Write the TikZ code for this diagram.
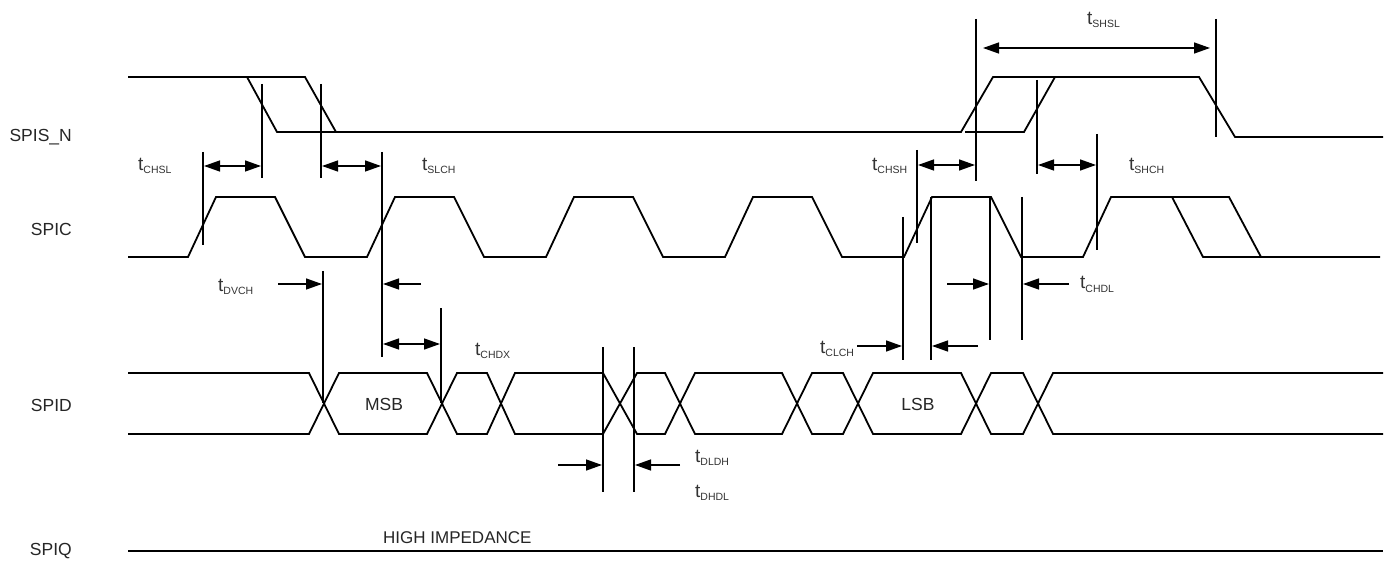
\documentclass[tikz,border=0pt]{standalone}
\usepackage{fontspec}
\setmainfont{Liberation Sans}
\usetikzlibrary{arrows.meta}
\tikzset{
  wave/.style={line width=1.8pt, line join=miter},
  vline/.style={line width=1.6pt},
  dimboth/.style={line width=1.4pt, {Triangle[length=16pt,width=11pt]}-{Triangle[length=16pt,width=11pt]}},
  dimone/.style={line width=1.4pt, -{Triangle[length=16pt,width=11pt]}},
  sig/.style={anchor=base east, inner sep=0pt, font=\fontsize{17.5}{17.5}\selectfont, text=black!85},
  inner/.style={anchor=base, inner sep=0pt, font=\fontsize{17.5}{17.5}\selectfont, text=black!85},
  tlab/.style={anchor=base west, inner sep=0pt, font=\fontsize{19}{19}\selectfont, text=black!80},
}
\newcommand{\tsub}[1]{t\raisebox{-3pt}{\fontsize{10.5}{10.5}\selectfont #1}}
\begin{document}
\begin{tikzpicture}[x=1pt,y=-1pt]
\useasboundingbox (0,0) rectangle (1389,561);
\fill[white] (0,0) rectangle (1389,561);

% signal names
\node[sig] (nS) at (72,142) {SPIS\_N};
\node[sig] (nC) at (72,236) {SPIC};
\node[sig] (nD) at (72,411) {SPID};
\node[sig] (nQ) at (72,555) {SPIQ};

% SPIS_N
\draw[wave] (128,77) -- (305,77) -- (336,132);
\draw[wave] (247,77) -- (277,132) -- (961,132) -- (993,77) -- (1199,77) -- (1235,137) -- (1383,137);
\draw[wave] (965,132) -- (1024,132) -- (1055,77);

% SPIC
\draw[wave] (128,257)--(188,257)--(216,197)--(275,197)--(305,257)--(367,257)--(395,197)--(454,197)--(484,257)
  --(546,257)--(574,197)--(633,197)--(663,257)--(725,257)--(753,197)--(812,197)--(842,257)--(904,257)--(932,197)
  --(991,197)--(1021,257)--(1083,257)--(1111,197)--(1229,197)--(1261,257);
\draw[wave] (1172,197)--(1203,257)--(1380,257);

% SPID
\draw[wave] (128,373)--(309,373)--(339,434)--(427,434)--(457,373)--(487,373)--(515,434)--(603,434)--(637,373)
  --(665,373)--(695,434)--(782,434)--(812,373)--(843,373)--(873,434)--(961,434)--(991,373)--(1023,373)--(1053,434)--(1383,434);
\draw[wave] (128,434)--(309,434)--(339,373)--(427,373)--(457,434)--(487,434)--(515,373)--(603,373)--(637,434)
  --(665,434)--(695,373)--(782,373)--(812,434)--(843,434)--(873,373)--(961,373)--(991,434)--(1023,434)--(1053,373)--(1383,373);
\node[inner] (msb) at (384,410) {MSB};
\node[inner] (lsb) at (918,410) {LSB};

% SPIQ
\draw[line width=2.2pt] (128,551) -- (1383,551);
\node[anchor=base west, inner sep=0pt, font=\fontsize{17}{17}\selectfont, text=black!85] (hiz) at (383,543) {HIGH IMPEDANCE};

% vertical reference lines
\draw[vline] (203,152) -- (203,245);
\draw[vline] (262,84) -- (262,178);
\draw[vline] (321,84) -- (321,178);
\draw[vline] (382,152) -- (382,357);
\draw[vline] (323,271) -- (323,403);
\draw[vline] (441,308) -- (441,403);
\draw[vline] (603,347) -- (603,492);
\draw[vline] (634,347) -- (634,492);
\draw[vline] (903,217) -- (903,360);
\draw[vline] (931,197) -- (931,360);
\draw[vline] (990,197) -- (990,340);
\draw[vline] (1022,197) -- (1022,340);
\draw[vline] (917,150) -- (917,243);
\draw[vline] (976,19) -- (976,181);
\draw[vline] (1037,80) -- (1037,174);
\draw[vline] (1097,134) -- (1097,250);
\draw[vline] (1216,19) -- (1216,137);

% dimension arrows
\draw[dimboth] (204,166) -- (261,166);
\draw[dimboth] (322,166) -- (381,166);
\draw[dimone] (278,284) -- (322,284);
\draw[dimone] (421,284) -- (383,284);
\draw[dimboth] (383,344) -- (440,344);
\draw[dimone] (558,465) -- (602,465);
\draw[dimone] (680,465) -- (635,465);
\draw[dimone] (857,346) -- (902,346);
\draw[dimone] (978,346) -- (932,346);
\draw[dimone] (947,284) -- (989,284);
\draw[dimone] (1069,284) -- (1023,284);
\draw[dimboth] (918,165) -- (975,165);
\draw[dimboth] (1038,165) -- (1096,165);
\draw[dimboth] (983,48) -- (1210,48);

% timing labels
\node[tlab] (lCHSL) at (138,171) {\tsub{CHSL}};
\node[tlab] (lSLCH) at (422,171) {\tsub{SLCH}};
\node[tlab] (lDVCH) at (218,291) {\tsub{DVCH}};
\node[tlab] (lCHDX) at (475,355) {\tsub{CHDX}};
\node[tlab] (lDLDH) at (695,462) {\tsub{DLDH}};
\node[tlab] (lDHDL) at (695,497) {\tsub{DHDL}};
\node[tlab] (lCLCH) at (820,353) {\tsub{CLCH}};
\node[tlab] (lCHSH) at (872,171) {\tsub{CHSH}};
\node[tlab] (lSHCH) at (1129,171) {\tsub{SHCH}};
\node[tlab] (lCHDL) at (1080,289) {\tsub{CHDL}};
\node[tlab] (lSHSL) at (1087,25) {\tsub{SHSL}};
\end{tikzpicture}
\end{document}
